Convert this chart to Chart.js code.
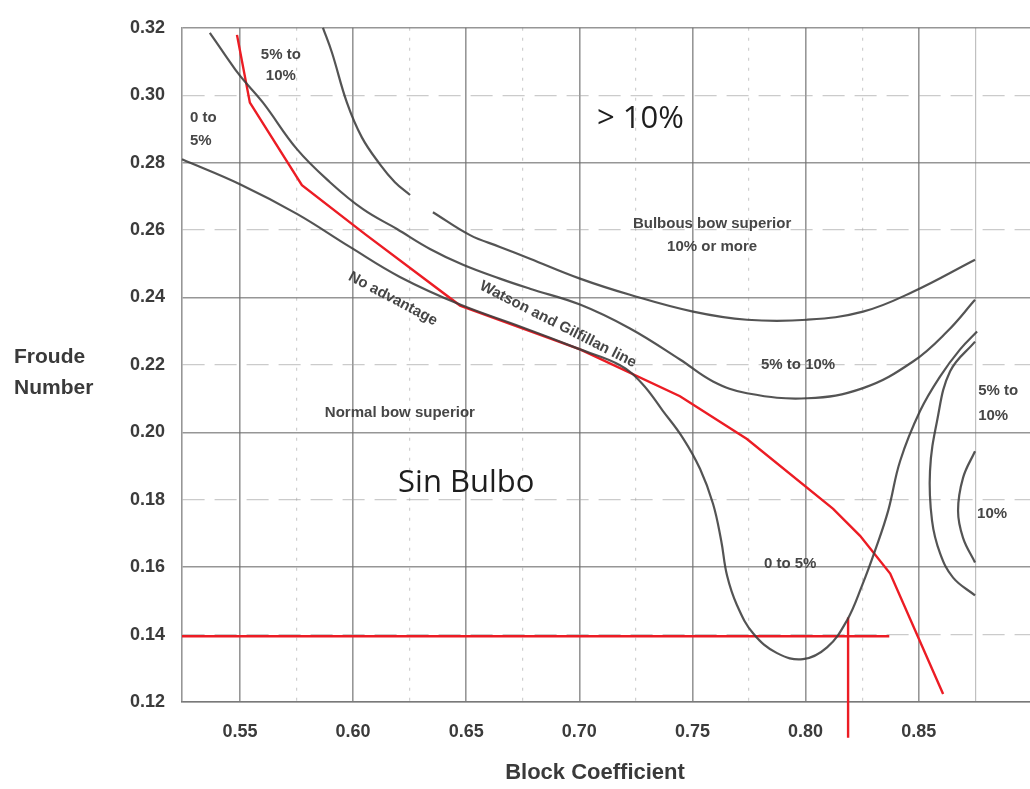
<!DOCTYPE html>
<html><head><meta charset="utf-8">
<script src="https://cdn.jsdelivr.net/npm/chart.js@4.4.1/dist/chart.umd.min.js"></script>
<style>html,body{margin:0;padding:0;background:#fff}#wrap{width:1030px;height:789px;position:relative}</style>
</head><body><div id="wrap"><canvas id="c" width="1030" height="789"></canvas></div>
<script>
// ---- axis ticks ----
const xTickValues = [0.55,0.575,0.60,0.625,0.65,0.675,0.70,0.725,0.75,0.775,0.80,0.825,0.85,0.875];
const xTickLabels = ['0.55','','0.60','','0.65','','0.70','','0.75','','0.80','','0.85',''];
const yTickValues = [0.12,0.14,0.16,0.18,0.20,0.22,0.24,0.26,0.28,0.30,0.32];
const yTickLabels = ['0.12','0.14','0.16','0.18','0.20','0.22','0.24','0.26','0.28','0.30','0.32'];

// ---- curves (Block Coefficient, Froude Number) ----
// "No advantage" line / 0 to 5% region boundary
const noAdvX = [0.5244,0.5500,0.5752,0.5986,0.6207,0.6473,0.6738,0.7003,0.7180,0.7277,0.7370,0.7458,0.7534,0.7591,0.7627,0.7653,0.7697,0.7768,0.7874,0.7989,0.8095,0.8183,0.8250,0.8307,0.8365,0.8418,0.8506,0.8595,0.8683,0.8758];
const noAdvY = [0.2810,0.2736,0.2648,0.2550,0.2461,0.2379,0.2314,0.2246,0.2199,0.2145,0.2063,0.1983,0.1891,0.1788,0.1679,0.1575,0.1487,0.1404,0.1345,0.1327,0.1362,0.1442,0.1546,0.1649,0.1767,0.1915,0.2063,0.2166,0.2246,0.2299];
// Watson and Gilfillan line (continues as lower 5%-10% boundary)
const watsonX = [0.5367,0.5434,0.5500,0.5602,0.5752,0.5898,0.6044,0.6194,0.6340,0.6486,0.6649,0.6782,0.7003,0.7224,0.7445,0.7591,0.7741,0.8007,0.8254,0.8475,0.8626,0.8749];
const watsonY = [0.3185,0.3120,0.3058,0.2978,0.2840,0.2742,0.2662,0.2603,0.2544,0.2497,0.2456,0.2426,0.2379,0.2308,0.2216,0.2151,0.2116,0.2101,0.2131,0.2210,0.2299,0.2393];
// 10% or more boundary (upper), drawn in two pieces
const upperAX = [0.5867,0.5907,0.5973,0.6039,0.6119,0.6185,0.6252];
const upperAY = [0.3200,0.3126,0.2978,0.2875,0.2795,0.2742,0.2704];
const upperBX = [0.6353,0.6517,0.6649,0.6782,0.7003,0.7224,0.7503,0.7741,0.8007,0.8254,0.8475,0.8749];
const upperBY = [0.2653,0.2585,0.2550,0.2515,0.2456,0.2408,0.2358,0.2334,0.2334,0.2358,0.2417,0.2512];
// right side 5% to 10% arc
const right510X = [0.8749,0.8639,0.8581,0.8550,0.8559,0.8595,0.8652,0.8749];
const right510Y = [0.2269,0.2181,0.2033,0.1885,0.1738,0.1640,0.1569,0.1516];
// right side 10% arc
const right10X = [0.8749,0.8696,0.8674,0.8696,0.8749];
const right10Y = [0.1944,0.1865,0.1767,0.1687,0.1614];
// red "Sin Bulbo" limit line
const redX = [0.5487,0.5544,0.5774,0.6053,0.6473,0.7003,0.7445,0.7741,0.8122,0.8241,0.8374,0.8608];
const redY = [0.3179,0.2978,0.2733,0.2588,0.2376,0.2246,0.2107,0.1980,0.1773,0.1693,0.1581,0.1224];
// red design point lines
const designFnX = [0.5244,0.8370];
const designFnY = [0.1395,0.1395];
const designCbX = [0.8188,0.8188];
const designCbY = [0.1451,0.1094];

const pts = (xs, ys) => xs.map((v, i) => ({x: v, y: ys[i]}));

const GRAY = 'rgba(60,60,60,0.88)';
const RED = '#ec1c24';
function curve(xs, ys, color, tension, extra) {
  return Object.assign({data: pts(xs, ys), borderColor: color, borderWidth: 2.2, pointRadius: 0,
    tension: tension, fill: false, clip: false}, extra || {});
}

const datasets = [
  curve(noAdvX, noAdvY, GRAY, 0.4),
  curve(watsonX, watsonY, GRAY, 0.4),
  curve(upperAX, upperAY, GRAY, 0.4),
  curve(upperBX, upperBY, GRAY, 0.4),
  curve(right510X, right510Y, GRAY, 0.4),
  curve(right10X, right10Y, GRAY, 0.4),
  curve(redX, redY, RED, 0, {borderWidth: 2.4}),
  curve(designFnX, designFnY, RED, 0, {borderWidth: 2.4}),
  curve(designCbX, designCbY, RED, 0, {borderWidth: 2.4})
];

const SMALL = 'bold 15px "Liberation Sans", Arial, sans-serif';
const BIG = '31px "Open Sans", sans-serif';
const annotations = [
  {text: '5% to', x: 0.5681, y: 0.3120, align: 'center', font: SMALL},
  {text: '10%', x: 0.5681, y: 0.3058, align: 'center', font: SMALL},
  {text: '0 to', x: 0.5279, y: 0.2934, align: 'left', font: SMALL},
  {text: '5%', x: 0.5279, y: 0.2866, align: 'left', font: SMALL},
  {text: '> 10%', x: 0.7078, y: 0.2928, align: 'left', font: BIG, color: '#1e1e1e'},
  {text: 'Bulbous bow superior', x: 0.7587, y: 0.2618, align: 'center', font: SMALL},
  {text: '10% or more', x: 0.7587, y: 0.2550, align: 'center', font: SMALL},
  {text: 'No advantage', x: 0.6176, y: 0.2396, align: 'center', font: SMALL, rot: 28},
  {text: 'Watson and Gilfillan line', x: 0.6906, y: 0.2320, align: 'center', font: SMALL, rot: 27},
  {text: 'Normal bow superior', x: 0.6207, y: 0.2057, align: 'center', font: SMALL},
  {text: 'Sin Bulbo', x: 0.6199, y: 0.1850, align: 'left', font: BIG, color: '#1e1e1e'},
  {text: '5% to 10%', x: 0.7967, y: 0.2201, align: 'center', font: SMALL},
  {text: '5% to', x: 0.8763, y: 0.2122, align: 'left', font: SMALL},
  {text: '10%', x: 0.8763, y: 0.2048, align: 'left', font: SMALL},
  {text: '10%', x: 0.8758, y: 0.1758, align: 'left', font: SMALL},
  {text: '0 to 5%', x: 0.7932, y: 0.1611, align: 'center', font: SMALL}
];

const textPlugin = {
  id: 'texts',
  afterDatasetsDraw(chart) {
    const {ctx} = chart;
    const xs = chart.scales.x, ys = chart.scales.y;
    ctx.save();
    ctx.textBaseline = 'middle';
    for (const a of annotations) {
      ctx.save();
      ctx.font = a.font;
      ctx.fillStyle = a.color || '#464646';
      ctx.textAlign = a.align;
      ctx.translate(xs.getPixelForValue(a.x), ys.getPixelForValue(a.y));
      if (a.rot) ctx.rotate(a.rot * Math.PI / 180);
      ctx.fillText(a.text, 0, 0);
      ctx.restore();
    }
    // axis titles
    ctx.font = 'bold 21px "Liberation Sans", Arial, sans-serif';
    ctx.fillStyle = '#3a3a3a';
    ctx.textAlign = 'left';
    ctx.fillText('Froude', 14, 357);
    ctx.fillText('Number', 14, 388);
    ctx.font = 'bold 22px "Liberation Sans", Arial, sans-serif';
    ctx.textAlign = 'center';
    ctx.fillText('Block Coefficient', 595, 773);
    ctx.restore();
  }
};

const bgPlugin = {
  id: 'bg',
  beforeDraw(chart) {
    const c = chart.ctx; c.save(); c.fillStyle = '#fff'; c.fillRect(0, 0, chart.width, chart.height); c.restore();
  }
};

const isMajX = v => Math.abs(v * 20 - Math.round(v * 20)) < 1e-6;
const isMajY = v => Math.abs(v * 25 - Math.round(v * 25)) < 1e-6;
const TICKFONT = {family: '"Liberation Sans", Arial, sans-serif', size: 18, weight: 'bold'};
const MAJ = 'rgba(110,110,110,0.72)';

new Chart(document.getElementById('c'), {
  type: 'line',
  data: {datasets},
  options: {
    responsive: false,
    animation: false,
    events: [],
    layout: {padding: {top: 25, right: 0, left: 0, bottom: 0}},
    plugins: {legend: {display: false}, tooltip: {enabled: false}},
    scales: {
      x: {
        type: 'linear', min: 0.5244, max: 0.8992,
        afterBuildTicks: s => { s.ticks = xTickValues.map(v => ({value: v})); },
        afterFit: s => { s.height = 87; },
        ticks: {autoSkip: false, maxRotation: 0, padding: 19, color: '#3b3b3b', font: TICKFONT,
          callback: (v, i) => xTickLabels[i]},
        grid: {drawTicks: false,
          color: c => (c.tick && isMajX(c.tick.value)) ? MAJ : (c.tick && c.tick.value > 0.87 ? 'rgba(150,150,150,0.6)' : 'rgba(170,170,170,0.55)'),
          lineWidth: c => (c.tick && isMajX(c.tick.value)) ? 1.6 : 1.2},
        border: {display: true, color: MAJ, width: 1.6,
          dash: c => (c.tick && !isMajX(c.tick.value) && c.tick.value < 0.87) ? [3, 7] : []}
      },
      y: {
        type: 'linear', min: 0.12, max: 0.32,
        afterBuildTicks: s => { s.ticks = yTickValues.map(v => ({value: v})); },
        afterFit: s => { s.width = 182; },
        ticks: {autoSkip: false, padding: 17, color: '#3b3b3b', font: TICKFONT,
          callback: (v, i) => yTickLabels[i]},
        grid: {drawTicks: false,
          color: c => (c.tick && isMajY(c.tick.value)) ? MAJ : 'rgba(160,160,160,0.55)',
          lineWidth: c => (c.tick && isMajY(c.tick.value)) ? 1.6 : 1.3},
        border: {display: true, color: MAJ, width: 1.6,
          dash: c => (c.tick && !isMajY(c.tick.value)) ? [22, 10] : []}
      }
    }
  },
  plugins: [bgPlugin, textPlugin]
});
</script>
</body></html>
